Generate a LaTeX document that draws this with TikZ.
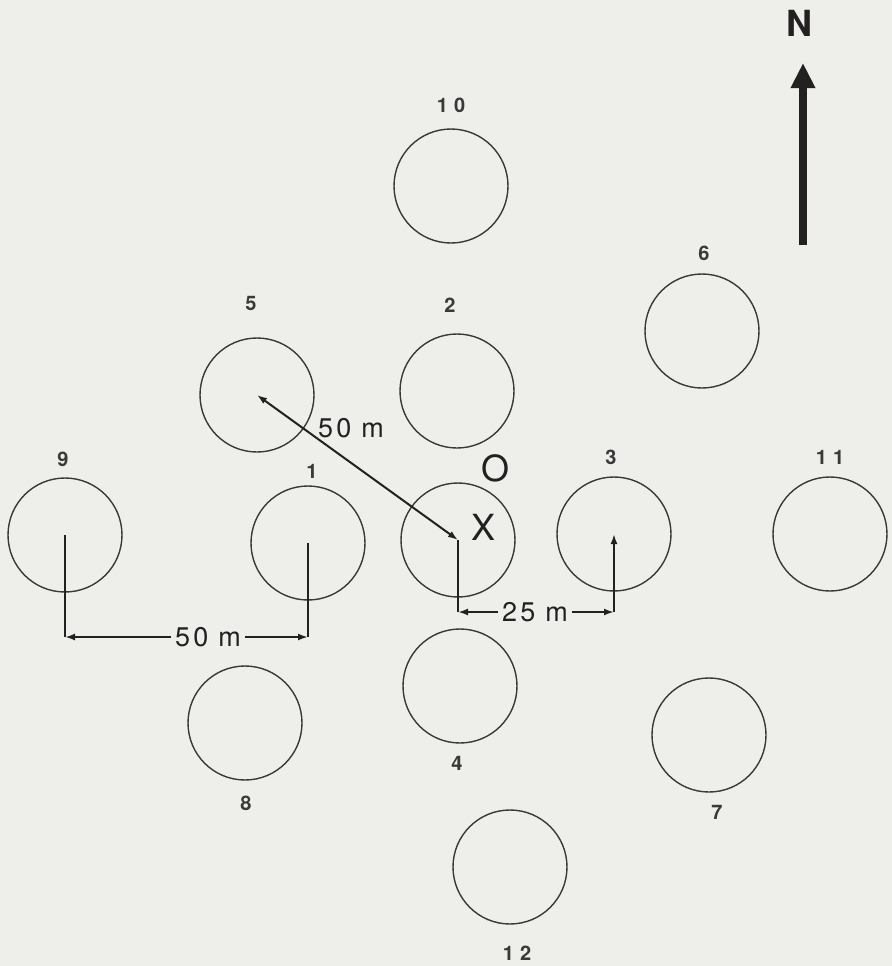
\documentclass[tikz,border=0pt]{standalone}
\usepackage{fontspec}
\setmainfont{TeX Gyre Heros}
\usetikzlibrary{arrows.meta}
\definecolor{paper}{RGB}{238,238,234}
\definecolor{ink}{RGB}{58,56,56}
\definecolor{dark}{RGB}{35,32,34}

\begin{document}
\begin{tikzpicture}[x=0.5pt, y=-0.5pt, >={Latex[length=5pt,width=3.5pt]},
	plot/.style={circle, draw=ink, line width=0.7pt, minimum size=57pt, inner sep=0pt},
	num/.style={font=\fontsize{10}{12}\selectfont\bfseries, text=ink},
	dist/.style={font=\fontsize{13.5}{16}\selectfont, text=dark, inner sep=2pt},
	big/.style={font=\fontsize{18}{21}\selectfont, text=dark},
	dim/.style={line width=1pt, dark}]
	\fill[paper] (0,0) rectangle (892,966);
	\useasboundingbox (0,0) rectangle (892,966);
	% plots
	\node[plot] (c10) at (451,186) {};
	\node[plot] (c6) at (702,331) {};
	\node[plot] (c5) at (257,395) {};
	\node[plot] (c2) at (457,391) {};
	\node[plot] (c9) at (65,535) {};
	\node[plot] (c1) at (308,543) {};
	\node[plot] (c0) at (458,540) {};
	\node[plot] (c3) at (614,534) {};
	\node[plot] (c11) at (830,534) {};
	\node[plot] (c8) at (245,723) {};
	\node[plot] (c4) at (460,686) {};
	\node[plot] (c7) at (709,735) {};
	\node[plot] (c12) at (510,867) {};
	% plot numbers
	\node[num] (l10) at (451,105) {1\kern3pt0};
	\node[num] (l6) at (704,253) {6};
	\node[num] (l5) at (251,303) {5};
	\node[num] (l2) at (450,305) {2};
	\node[num] (l9) at (63,459) {9};
	\node[num] (l1) at (312,471) {1};
	\node[num] (l3) at (611,457) {3};
	\node[num] (l11) at (830,457) {1\kern3pt1};
	\node[num] (l8) at (246,803) {8};
	\node[num] (l4) at (457,763) {4};
	\node[num] (l7) at (717,812) {7};
	\node[num] (l12) at (517,953) {1\kern3pt2};
	\node[big] (lO) at (496,468) {O};
	\node[big] (lX) at (484,527) {X};
	% north arrow
	\node[big, font=\fontsize{18}{21}\selectfont\bfseries] (N) at (799,23) {N};
	\coordinate (Nfoot) at (803,245);
	\coordinate (Ntip) at (803,63);
	\draw[line width=4pt, dark, -{Triangle[length=12.5pt,width=11.5pt]}] (Nfoot) -- (Ntip);
	% distances
	\node[dist] (t50a) at (351,428) {5\kern1.5pt0\kern5pt m};
	\draw[dim, <->] (c5.center) -- (c0.center);
	\node[dist] (t25) at (535,612) {2\kern1.5pt5\kern5pt m};
	\coordinate (d0) at (c0.center |- t25.center);
	\coordinate (d3) at (c3.center |- t25.center);
	\draw[dim] (c0.center) -- (d0);
	\draw[dim, ->] (t25) -- (d0);
	\draw[dim, ->] (t25) -- (d3);
	\draw[dim, ->] (d3) -- (c3.center);
	\node[dist] (t50b) at (208,637) {5\kern1.5pt0\kern5pt m};
	\coordinate (b9) at (c9.center |- t50b.center);
	\coordinate (b1) at (c1.center |- t50b.center);
	\draw[dim] (c9.center) -- (b9);
	\draw[dim] (c1.center) -- (b1);
	\draw[dim, ->] (t50b) -- (b9);
	\draw[dim, ->] (t50b) -- (b1);
\end{tikzpicture}
\end{document}
